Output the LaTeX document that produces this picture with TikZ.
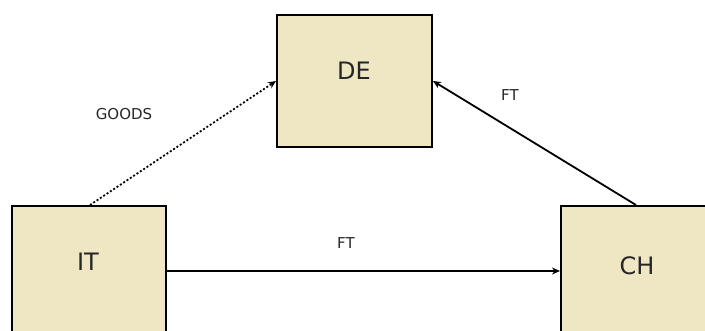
\documentclass[tikz,border=0pt]{standalone}
\usepackage{fontspec}
\setmainfont{DejaVu Sans}
\usetikzlibrary{arrows.meta,calc}
\tikzset{
  box/.style={draw=black, line width=2pt, fill=boxfill, anchor=north west, inner sep=0pt},
  lbl/.style={font=\fontsize{15}{18}\selectfont, text=black!85},
  big/.style={font=\fontsize{24}{28}\selectfont, text=black!85},
  conn/.style={line width=1.8pt, -{Stealth[length=8pt,width=7pt]}},
}
\definecolor{boxfill}{HTML}{EFE6C4}
\begin{document}
\begin{tikzpicture}[x=1pt,y=-1pt]
\useasboundingbox (0,0) rectangle (705,331);
\node[box, minimum width=155pt, minimum height=132pt] (DE) at (276,14) {};
\node[box, minimum width=154pt, minimum height=160pt] (IT) at (11,205) {};
\node[box, minimum width=160pt, minimum height=160pt] (CH) at (560,205) {};
\node[big] (DEt) at (354,71) {DE};
\node[big] (ITt) at (88,262) {IT};
\node[big] (CHt) at (637,266) {CH};
\coordinate (itr) at ($(IT.north east)+(0,66)$);
\coordinate (chl) at ($(CH.north west)+(0,66)$);
\coordinate (itt) at ($(IT.north west)+(79,0)$);
\coordinate (del) at ($(DE.north west)+(0,67)$);
\coordinate (cht) at ($(CH.north west)+(76,0)$);
\coordinate (der) at ($(DE.north east)+(0,67)$);
\draw[conn] (itr) -- (chl);
\draw[conn, dash pattern=on 2pt off 2pt] (itt) -- (del);
\draw[conn] (cht) -- (der);
\node[lbl] (ft1) at (346,243) {FT};
\node[lbl] (goods) at (124,114) {GOODS};
\node[lbl] (ft2) at (510,95) {FT};
\end{tikzpicture}
\end{document}
